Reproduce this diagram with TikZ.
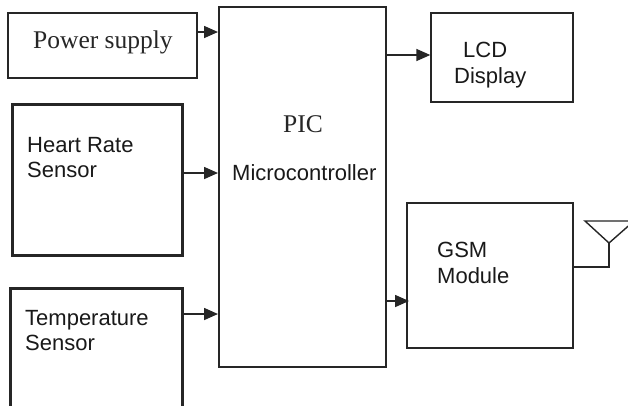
\documentclass[tikz,border=0pt]{standalone}
\usepackage{fontspec}
\setmainfont{Liberation Serif}
\setsansfont{Liberation Sans}
\usetikzlibrary{arrows.meta}
\begin{document}
\begin{tikzpicture}[x=1pt,y=-1pt,
  blk/.style={draw=black!85,rectangle,inner sep=0pt},
  thinblk/.style={blk,line width=1.4pt},
  midblk/.style={blk,line width=2pt},
  thickblk/.style={blk,line width=3pt},
  sanstxt/.style={inner sep=0pt,anchor=base west,font=\sffamily\fontsize{22}{25}\selectfont,text=black!90},
  seriftxt/.style={inner sep=0pt,anchor=base west,font=\rmfamily\fontsize{25.5}{29}\selectfont,text=black!85},
  conn/.style={line width=1.6pt,draw=black!85,-{Triangle[length=14pt,width=12pt]}}]
\clip (0,0) rectangle (628,405);
\fill[white] (0,0) rectangle (628,405);
% blocks
\node[thinblk,minimum width=189pt,minimum height=65pt] (ps) at (102.5,45.5) {};
\node[thickblk,minimum width=170pt,minimum height=151pt] (hr) at (97,179.5) {};
\node[thickblk,minimum width=172pt,minimum height=130pt] (ts) at (96,353) {};
\node[midblk,minimum width=167pt,minimum height=360pt] (pic) at (302.5,187) {};
\node[thinblk,minimum width=142pt,minimum height=89pt] (lcd) at (502,57.5) {};
\node[midblk,minimum width=166pt,minimum height=145pt] (gsm) at (490,275.5) {};
% texts
\node[seriftxt] (pst) at (33,48) {Power supply};
\node[sanstxt] (hr1) at (27,152) {Heart Rate};
\node[sanstxt] (hr2) at (27,177) {Sensor};
\node[sanstxt] (ts1) at (25,325) {Temperature};
\node[sanstxt] (ts2) at (25,350) {Sensor};
\node[seriftxt] (pic1) at (283,132) {PIC};
\node[sanstxt] (pic2) at (232,180) {Microcontroller};
\node[sanstxt] (lcd1) at (463,57) {LCD};
\node[sanstxt] (lcd2) at (454,83) {Display};
\node[sanstxt] (gsm1) at (437,257) {GSM};
\node[sanstxt] (gsm2) at (437,283) {Module};
% connectors
\draw[conn] (ps.east |- 0,32) -- (pic.west |- 0,32);
\draw[conn] (hr.east |- 0,173) -- (pic.west |- 0,173);
\draw[conn] (ts.east |- 0,314) -- (pic.west |- 0,314);
\draw[conn] (pic.east |- 0,55) -- (lcd.west |- 0,55);
\draw[conn] (pic.east |- 0,301) -- ([xshift=3pt]gsm.west |- 0,301);
% antenna
\coordinate (antfoot) at (609,267);
\coordinate (antapex) at (609,243);
\draw[line width=1.6pt,draw=black!85] (gsm.east |- antfoot) -- (antfoot) -- (antapex);
\draw[line width=1.4pt,draw=black!85,line join=miter] (585,221) -- (634,221) -- (antapex) -- cycle;
\end{tikzpicture}
\end{document}
